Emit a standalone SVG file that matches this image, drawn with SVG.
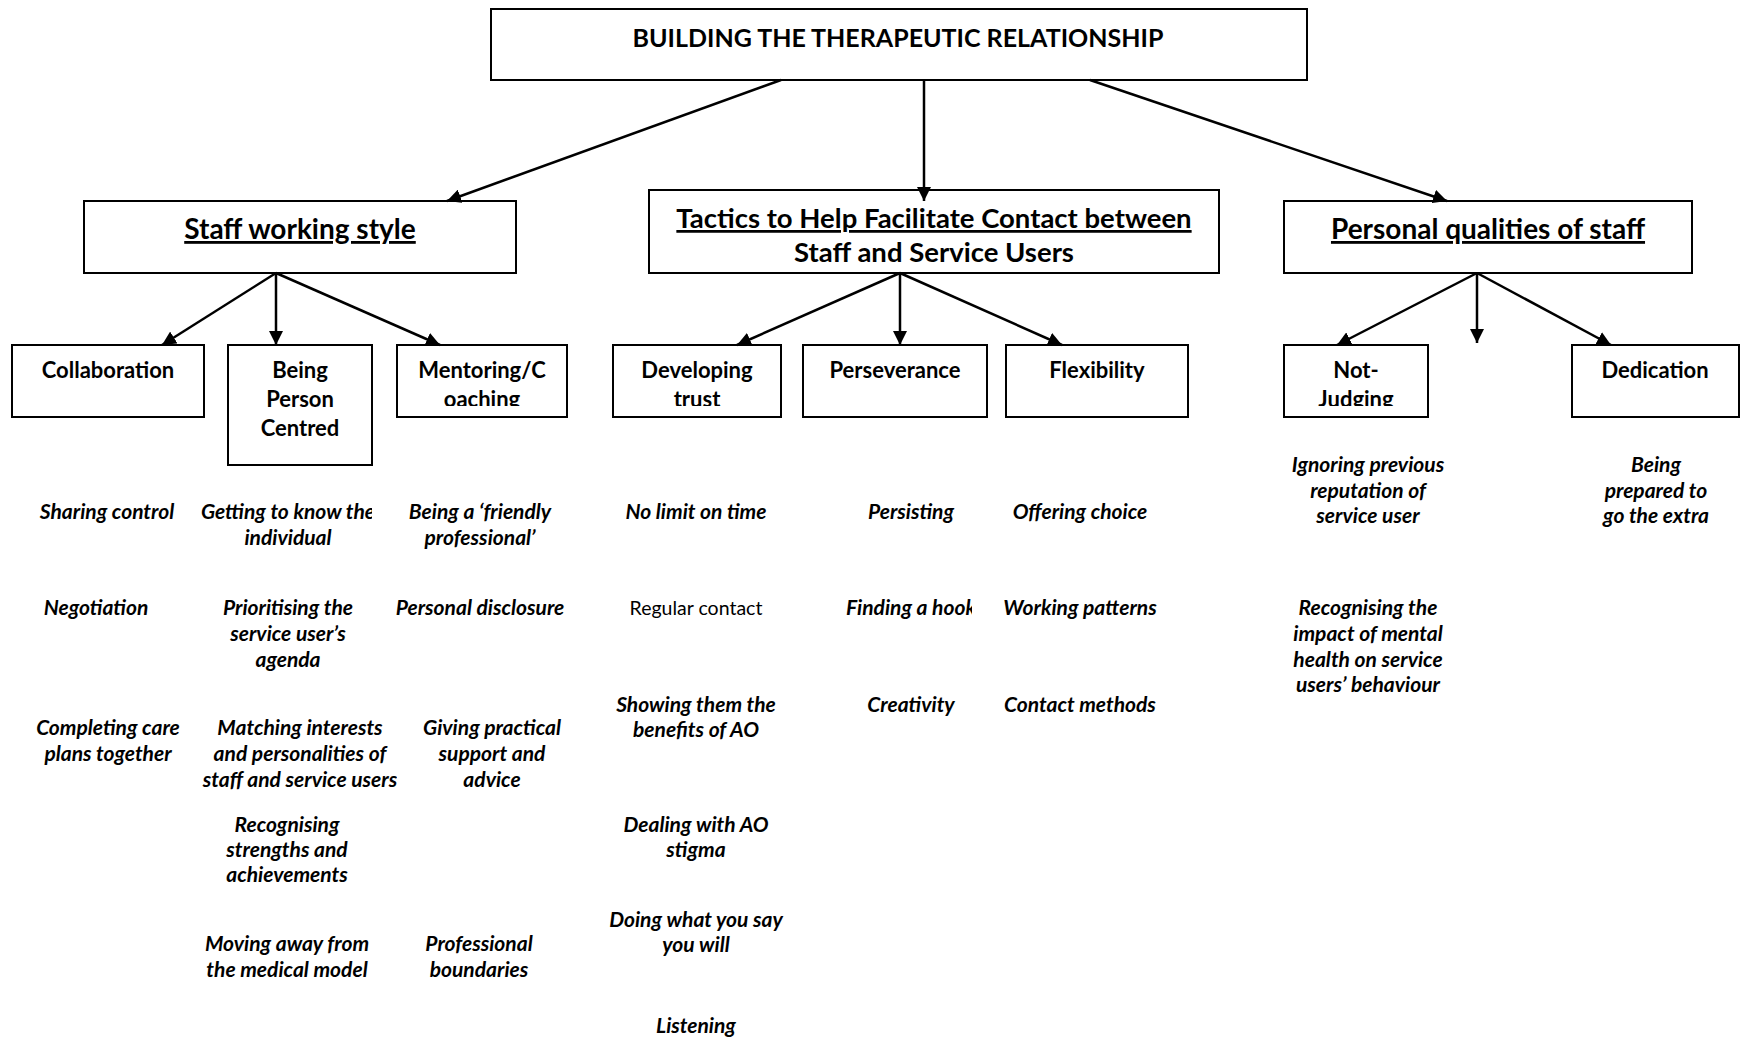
<svg xmlns="http://www.w3.org/2000/svg" width="1741" height="1039" viewBox="0 0 1741 1039">
  <style>
    .box { fill: #fff; stroke: #000; stroke-width: 2; }
    .conn { stroke: #000; stroke-width: 2.5; fill: none; marker-end: url(#arrow); }
    text { font-family: Lato, "Open Sans", "Liberation Sans", sans-serif; fill: #000; text-anchor: middle; }
    .title { font-weight: bold; font-size: 25px; }
    .head { font-weight: bold; font-size: 28px; text-decoration: underline; }
    .narrow { font-size: 27.5px; }
    .head2 { font-weight: bold; font-size: 27.5px; }
    .lbl { font-weight: bold; font-size: 22px; }
    .it { font-weight: bold; font-style: italic; font-size: 21px; }
    .plain { font-size: 19.5px; }
  </style>
  <defs>
    <marker id="arrow" markerUnits="userSpaceOnUse" markerWidth="15" markerHeight="14" refX="14" refY="7" orient="auto">
      <path d="M0,0 L14,7 L0,14 z" fill="#000"/>
    </marker>
    <clipPath id="clipMentoring"><rect x="397" y="345" width="170" height="61"/></clipPath>
    <clipPath id="clipDeveloping"><rect x="613" y="345" width="168" height="61"/></clipPath>
    <clipPath id="clipNotJudging"><rect x="1284" y="345" width="144" height="61"/></clipPath>
    <clipPath id="clipCol2"><rect x="190" y="480" width="182" height="330"/></clipPath>
    <clipPath id="clipCol2b"><rect x="190" y="700" width="207" height="100"/></clipPath>
    <clipPath id="clipCol5"><rect x="800" y="590" width="172" height="40"/></clipPath>
  </defs>

  <!-- top -->
  <g id="root">
    <rect class="box" x="491" y="9" width="816" height="71"/>
    <text class="title" x="898" y="47">BUILDING THE THERAPEUTIC RELATIONSHIP</text>
  </g>

  <!-- second level -->
  <g id="staff-working-style">
    <rect class="box" x="84" y="201" width="432" height="72"/>
    <text class="head" x="300" y="239">Staff working style</text>
  </g>
  <g id="tactics">
    <rect class="box" x="649" y="190" width="570" height="83"/>
    <text class="head narrow" x="934" y="228">Tactics to Help Facilitate Contact between</text>
    <text class="head2" x="934" y="262">Staff and Service Users</text>
  </g>
  <g id="personal-qualities">
    <rect class="box" x="1284" y="201" width="408" height="72"/>
    <text class="head" x="1488" y="239">Personal qualities of staff</text>
  </g>

  <!-- third level -->
  <g id="collaboration">
    <rect class="box" x="12" y="345" width="192" height="72"/>
    <text class="lbl" x="108" y="378">Collaboration</text>
  </g>
  <g id="person-centred">
    <rect class="box" x="228" y="345" width="144" height="120"/>
    <text class="lbl" x="300" y="378">Being</text>
    <text class="lbl" x="300" y="407">Person</text>
    <text class="lbl" x="300" y="436">Centred</text>
  </g>
  <g id="mentoring">
    <rect class="box" x="397" y="345" width="170" height="72"/>
    <g clip-path="url(#clipMentoring)">
      <text class="lbl" x="482" y="378">Mentoring/C</text>
      <text class="lbl" x="482" y="407">oaching</text>
    </g>
  </g>
  <g id="developing-trust">
    <rect class="box" x="613" y="345" width="168" height="72"/>
    <g clip-path="url(#clipDeveloping)">
      <text class="lbl" x="697" y="378">Developing</text>
      <text class="lbl" x="697" y="407">trust</text>
    </g>
  </g>
  <g id="perseverance">
    <rect class="box" x="803" y="345" width="184" height="72"/>
    <text class="lbl" x="895" y="378">Perseverance</text>
  </g>
  <g id="flexibility">
    <rect class="box" x="1006" y="345" width="182" height="72"/>
    <text class="lbl" x="1097" y="378">Flexibility</text>
  </g>
  <g id="not-judging">
    <rect class="box" x="1284" y="345" width="144" height="72"/>
    <g clip-path="url(#clipNotJudging)">
      <text class="lbl" x="1356" y="378">Not-</text>
      <text class="lbl" x="1356" y="407">Judging</text>
    </g>
  </g>
  <g id="dedication">
    <rect class="box" x="1572" y="345" width="167" height="72"/>
    <text class="lbl" x="1655" y="378">Dedication</text>
  </g>

  <!-- arrows between levels (drawn over the boxes so tips stay visible) -->
  <g id="connectors">
    <line class="conn" x1="781" y1="80" x2="447" y2="201"/>
    <line class="conn" x1="924" y1="80" x2="924" y2="201"/>
    <line class="conn" x1="1090" y1="80" x2="1447" y2="201"/>

    <line class="conn" x1="276" y1="273" x2="162" y2="345"/>
    <line class="conn" x1="276" y1="273" x2="276" y2="345"/>
    <line class="conn" x1="276" y1="273" x2="440" y2="345"/>

    <line class="conn" x1="900" y1="273" x2="737" y2="345"/>
    <line class="conn" x1="900" y1="273" x2="900" y2="345"/>
    <line class="conn" x1="900" y1="273" x2="1062" y2="345"/>

    <line class="conn" x1="1477" y1="273" x2="1337" y2="345"/>
    <line class="conn" x1="1477" y1="273" x2="1477" y2="343"/>
    <line class="conn" x1="1477" y1="273" x2="1611" y2="345"/>
  </g>

  <!-- examples under Collaboration -->
  <g id="collaboration-items">
    <text class="it" x="107" y="519">Sharing control</text>
    <text class="it" x="96" y="615">Negotiation</text>
    <text class="it" x="108" y="735">Completing care</text>
    <text class="it" x="108" y="761">plans together</text>
  </g>

  <!-- examples under Being Person Centred -->
  <g id="person-centred-items">
    <g clip-path="url(#clipCol2)">
      <text class="it" x="288" y="519">Getting to know the</text>
      <text class="it" x="288" y="545">individual</text>
      <text class="it" x="288" y="615">Prioritising the</text>
      <text class="it" x="288" y="641">service user’s</text>
      <text class="it" x="288" y="667">agenda</text>
    </g>
    <g clip-path="url(#clipCol2b)">
      <text class="it" x="300" y="735">Matching interests</text>
      <text class="it" x="300" y="761">and personalities of</text>
      <text class="it" x="300" y="787">staff and service users</text>
    </g>
    <text class="it" x="287" y="832">Recognising</text>
    <text class="it" x="287" y="857">strengths and</text>
    <text class="it" x="287" y="882">achievements</text>
    <text class="it" x="287" y="951">Moving away from</text>
    <text class="it" x="287" y="977">the medical model</text>
  </g>

  <!-- examples under Mentoring/Coaching -->
  <g id="mentoring-items">
    <text class="it" x="480" y="519">Being a ‘friendly</text>
    <text class="it" x="480" y="545">professional’</text>
    <text class="it" x="480" y="615">Personal disclosure</text>
    <text class="it" x="492" y="735">Giving practical</text>
    <text class="it" x="492" y="761">support and</text>
    <text class="it" x="492" y="787">advice</text>
    <text class="it" x="479" y="951">Professional</text>
    <text class="it" x="479" y="977">boundaries</text>
  </g>

  <!-- examples under Developing trust -->
  <g id="developing-trust-items">
    <text class="it" x="696" y="519">No limit on time</text>
    <text class="plain" x="696" y="615">Regular contact</text>
    <text class="it" x="696" y="712">Showing them the</text>
    <text class="it" x="696" y="737">benefits of AO</text>
    <text class="it" x="696" y="832">Dealing with AO</text>
    <text class="it" x="696" y="857">stigma</text>
    <text class="it" x="696" y="927">Doing what you say</text>
    <text class="it" x="696" y="952">you will</text>
    <text class="it" x="696" y="1033">Listening</text>
  </g>

  <!-- examples under Perseverance -->
  <g id="perseverance-items">
    <text class="it" x="911" y="519">Persisting</text>
    <g clip-path="url(#clipCol5)">
      <text class="it" x="911" y="615">Finding a hook</text>
    </g>
    <text class="it" x="911" y="712">Creativity</text>
  </g>

  <!-- examples under Flexibility -->
  <g id="flexibility-items">
    <text class="it" x="1080" y="519">Offering choice</text>
    <text class="it" x="1080" y="615">Working patterns</text>
    <text class="it" x="1080" y="712">Contact methods</text>
  </g>

  <!-- examples under Not-Judging -->
  <g id="not-judging-items">
    <text class="it" x="1368" y="472">Ignoring previous</text>
    <text class="it" x="1368" y="498">reputation of</text>
    <text class="it" x="1368" y="523">service user</text>
    <text class="it" x="1368" y="615">Recognising the</text>
    <text class="it" x="1368" y="641">impact of mental</text>
    <text class="it" x="1368" y="667">health on service</text>
    <text class="it" x="1368" y="692">users’ behaviour</text>
  </g>

  <!-- examples under Dedication -->
  <g id="dedication-items">
    <text class="it" x="1656" y="472">Being</text>
    <text class="it" x="1656" y="498">prepared to</text>
    <text class="it" x="1656" y="523">go the extra</text>
  </g>
</svg>
